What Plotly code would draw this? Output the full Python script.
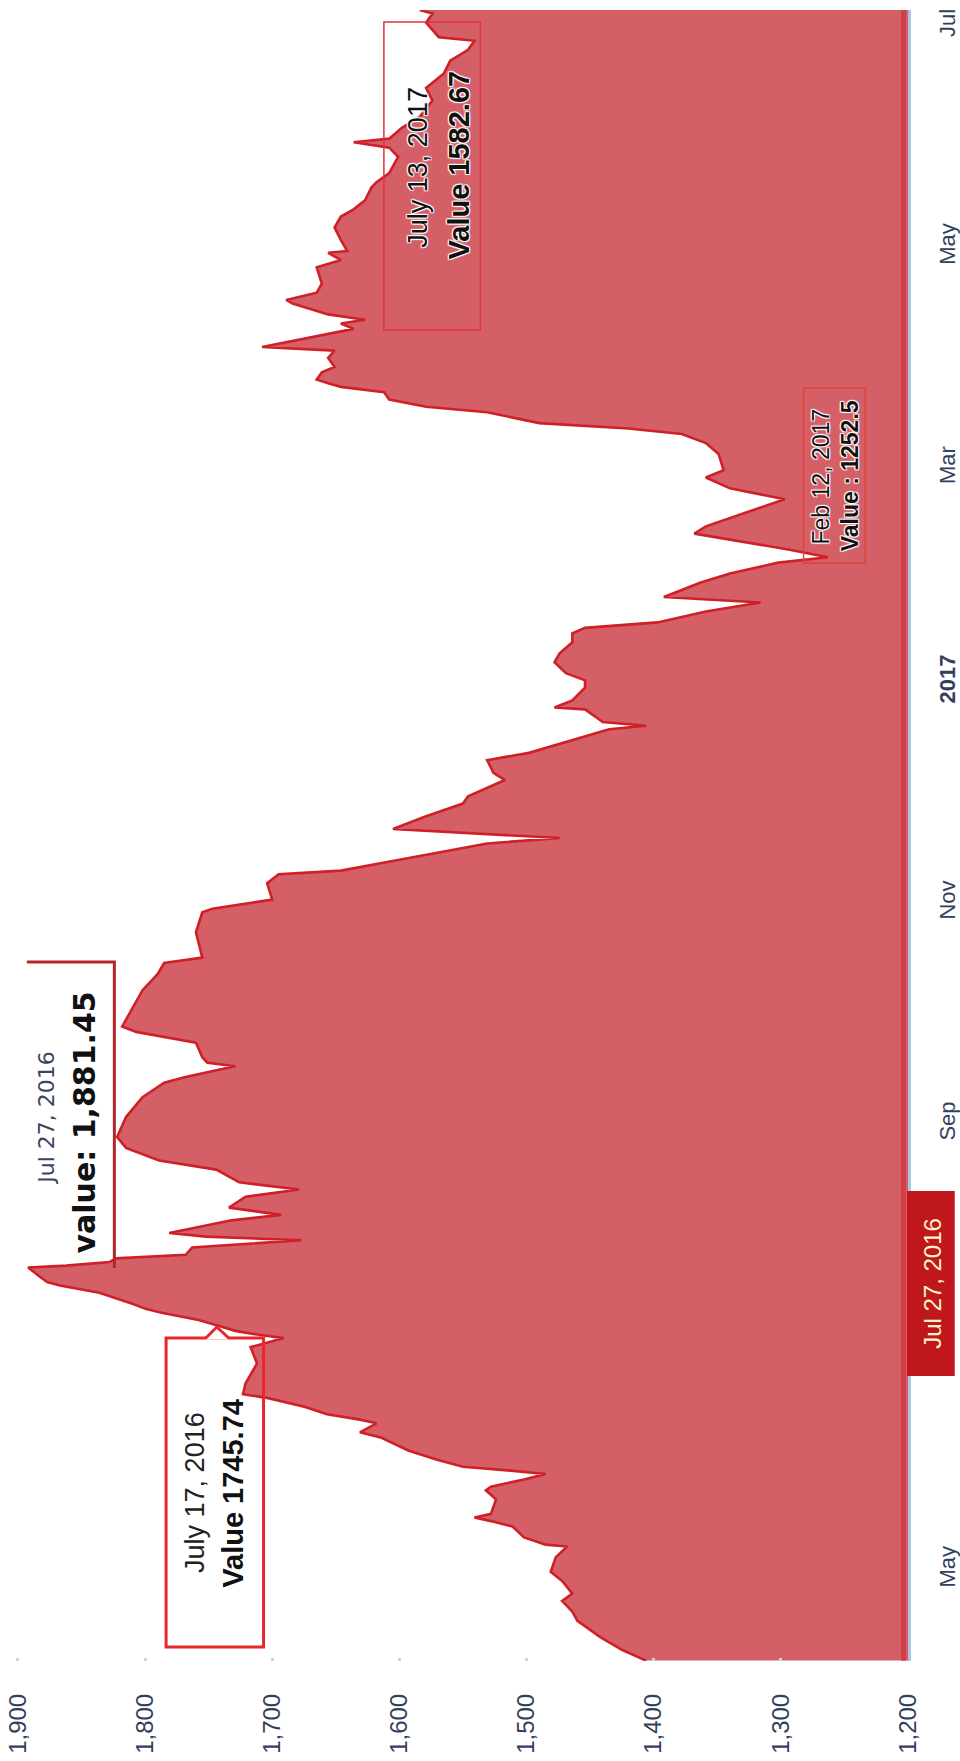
import plotly.graph_objects as go

# ---------------- data ----------------
dates = [
    "2016-04-06", "2016-04-09", "2016-04-12 12:00", "2016-04-17", "2016-04-19 12:00",
    "2016-04-22 12:00", "2016-04-24 12:00", "2016-04-28", "2016-04-30 12:00", "2016-05-04 12:00",
    "2016-05-07 12:00", "2016-05-08", "2016-05-10", "2016-05-13", "2016-05-14 12:00",
    "2016-05-15 12:00", "2016-05-16 12:00", "2016-05-20 12:00", "2016-05-23", "2016-05-24",
    "2016-05-26", "2016-05-27 12:00", "2016-05-28 12:00", "2016-05-29 12:00", "2016-05-31 12:00",
    "2016-06-03", "2016-06-06 12:00", "2016-06-08", "2016-06-10 12:00", "2016-06-11 12:00",
    "2016-06-13", "2016-06-15", "2016-06-17 12:00", "2016-06-18 12:00", "2016-06-21 12:00",
    "2016-06-27", "2016-07-01 12:00", "2016-07-04", "2016-07-05", "2016-07-06",
    "2016-07-07 12:00", "2016-07-09", "2016-07-11", "2016-07-12", "2016-07-13 12:00",
    "2016-07-16 12:00", "2016-07-18 12:00", "2016-07-19 12:00", "2016-07-21", "2016-07-23 12:00",
    "2016-07-24", "2016-07-25", "2016-07-26", "2016-07-27", "2016-07-29",
    "2016-07-31", "2016-08-01", "2016-08-02", "2016-08-05 12:00", "2016-08-07",
    "2016-08-09", "2016-08-12", "2016-08-14", "2016-08-16", "2016-08-19 12:00",
    "2016-08-22", "2016-08-25 12:00", "2016-08-28 12:00", "2016-09-03", "2016-09-08 12:00",
    "2016-09-12 12:00", "2016-09-14", "2016-09-16", "2016-09-17", "2016-09-18",
    "2016-09-19 12:00", "2016-09-23 12:00", "2016-09-25", "2016-09-26 12:00", "2016-09-28",
    "2016-10-02 12:00", "2016-10-08", "2016-10-12 12:00", "2016-10-15 12:00", "2016-10-17",
    "2016-10-24", "2016-10-29 12:00", "2016-10-30 12:00", "2016-11-02", "2016-11-06 12:00",
    "2016-11-09", "2016-11-10", "2016-11-13", "2016-11-17 12:00", "2016-11-19",
    "2016-11-21 12:00", "2016-11-25", "2016-11-28 12:00", "2016-11-30 12:00", "2016-12-05",
    "2016-12-07", "2016-12-10 12:00", "2016-12-12 12:00", "2016-12-19", "2016-12-20",
    "2016-12-21", "2016-12-24 12:00", "2016-12-25", "2016-12-27", "2016-12-30 12:00",
    "2017-01-01 12:00", "2017-01-03 12:00", "2017-01-06 12:00", "2017-01-09", "2017-01-12",
    "2017-01-14 12:00", "2017-01-16", "2017-01-17 12:00", "2017-01-20 12:00", "2017-01-23",
    "2017-01-24 12:00", "2017-01-28 12:00", "2017-01-31", "2017-02-03", "2017-02-04 12:00",
    "2017-02-05 12:00", "2017-02-06 12:00", "2017-02-11", "2017-02-13", "2017-02-20 12:00",
    "2017-02-23 12:00", "2017-02-26 12:00", "2017-02-28 12:00", "2017-03-05", "2017-03-08",
    "2017-03-10 12:00", "2017-03-12", "2017-03-13 12:00", "2017-03-16 12:00", "2017-03-18",
    "2017-03-20", "2017-03-22", "2017-03-23 12:00", "2017-03-24 12:00", "2017-03-25 12:00",
    "2017-03-27 12:00", "2017-03-29", "2017-03-31 12:00", "2017-04-02 12:00", "2017-04-03 12:00",
    "2017-04-08 12:00", "2017-04-10", "2017-04-11", "2017-04-12 12:00", "2017-04-15 12:00",
    "2017-04-16 12:00", "2017-04-18 12:00", "2017-04-21", "2017-04-25 12:00", "2017-04-27 12:00",
    "2017-04-29 12:00", "2017-04-30", "2017-05-03", "2017-05-06 12:00", "2017-05-09 12:00",
    "2017-05-11 12:00", "2017-05-14", "2017-05-17 12:00", "2017-05-19", "2017-05-21 12:00",
    "2017-05-26", "2017-05-28 12:00", "2017-05-30", "2017-05-31", "2017-06-03",
    "2017-06-06", "2017-06-10 12:00", "2017-06-14", "2017-06-18", "2017-06-21 12:00",
    "2017-06-24 12:00", "2017-06-27", "2017-06-28", "2017-07-02", "2017-07-04 12:00",
    "2017-07-05 12:00",
]
values = [
    1406, 1425, 1442, 1460, 1464,
    1472, 1464, 1472, 1481, 1477,
    1468, 1485, 1502, 1511, 1528,
    1541, 1528, 1524, 1532, 1528,
    1502, 1485, 1515, 1550, 1571,
    1593, 1614, 1631, 1618, 1631,
    1657, 1674, 1704, 1723, 1721,
    1712, 1717, 1691, 1712, 1729,
    1743, 1758, 1787, 1799, 1810,
    1836, 1867, 1877, 1883, 1892,
    1862, 1828, 1823, 1768, 1763,
    1677, 1752, 1781, 1732, 1693,
    1734, 1721, 1679, 1726, 1744,
    1789, 1815, 1822, 1815, 1802,
    1785, 1769, 1743, 1729, 1751,
    1755, 1760, 1785, 1807, 1818,
    1811, 1802, 1790, 1785, 1755,
    1760, 1755, 1747, 1700, 1704,
    1695, 1646, 1600, 1531, 1474,
    1605, 1579, 1550, 1546, 1517,
    1526, 1531, 1498, 1435, 1406,
    1440, 1454, 1478, 1464, 1454,
    1454, 1469, 1478, 1474, 1464,
    1464, 1454, 1397, 1359, 1316,
    1392, 1363, 1340, 1302, 1263,
    1277, 1292, 1368, 1359, 1297,
    1340, 1359, 1345, 1349, 1359,
    1378, 1420, 1490, 1531, 1579,
    1608, 1612, 1646, 1656, 1665,
    1661, 1651, 1656, 1651, 1708,
    1636, 1646, 1627, 1656, 1684,
    1689, 1665, 1661, 1665, 1646,
    1656, 1641, 1646, 1651, 1646,
    1636, 1627, 1622, 1618, 1608,
    1601, 1608, 1636, 1608, 1598,
    1584, 1574, 1579, 1565, 1560,
    1546, 1541, 1569, 1579, 1574,
    1584,
]

value_ticks = [1200, 1300, 1400, 1500, 1600, 1700, 1800, 1900]
value_tick_text = ["1,200", "1,300", "1,400", "1,500", "1,600", "1,700", "1,800", "1,900"]
date_ticks = ["2016-05-01", "2016-09-01", "2016-11-01", "2017-01-01",
              "2017-03-01", "2017-05-01", "2017-07-01"]
date_tick_text = ["May", "Sep", "Nov", "<b>2017</b>", "Mar", "May", "Jul"]

# ---------------- layout helpers ----------------
FIG_W, FIG_H = 960, 1761
M_L, M_R, M_T, M_B = 0, 47, 10, 100
PW = FIG_W - M_L - M_R
PH = FIG_H - M_T - M_B


def pxx(x):
    return (x - M_L) / PW


def pxy(y):
    return (FIG_H - M_B - y) / PH


FILL = "#d45f67"
LINE = "#cf2027"
LABEL = "#33405c"

fig = go.Figure()
fig.add_trace(go.Scatter(
    x=values, y=dates, mode="lines",
    line=dict(color=LINE, width=2.6),
    fill="tozerox", fillcolor=FILL,
    hoverinfo="skip", showlegend=False,
))

shapes = []


def rect(x0, y0, x1, y1, color, width, fill="rgba(0,0,0,0)"):
    shapes.append(dict(type="rect", xref="paper", yref="paper",
                       x0=pxx(x0), x1=pxx(x1), y0=pxy(y0), y1=pxy(y1),
                       line=dict(color=color, width=width), fillcolor=fill, layer="above"))


def seg(points, color, width, fill=None, closed=False):
    path = "M " + " L ".join(f"{pxx(a):.5f},{pxy(b):.5f}" for a, b in points)
    if closed:
        path += " Z"
    d = dict(type="path", xref="paper", yref="paper", path=path, layer="above",
             line=dict(color=color, width=width))
    if fill:
        d["fillcolor"] = fill
    shapes.append(d)


# Jul 27 callout (top and right edges only)
seg([(27, 962), (115, 962), (115, 1268)], "#b3262c", 3)
# July 17 callout box with pointer
rect(167, 1338, 265, 1647, "#e8262b", 3)
seg([(207, 1339.5), (218, 1328), (230, 1339.5)], "rgba(0,0,0,0)", 0, fill="white", closed=True)
seg([(207, 1338), (218, 1327), (230, 1338)], "#e8262b", 3)
# July 13 callout box
rect(386, 22, 483, 330, "#e3323a", 1.5)
# Feb 12 callout box
rect(808, 388, 870, 563, "#e3403a", 1.5)
# thin darker stripe along the baseline of the area
rect(906, 10, 911, 1661, "rgba(0,0,0,0)", 0, fill="rgba(200,40,48,0.55)")
# crosshair label on the date axis
rect(912, 1191, 960, 1376, "#c0171d", 0, fill="#c0171d")

halo = "1px 1px 1px white, -1px -1px 1px white, 1px -1px 1px white, -1px 1px 1px white"
ann = []


def label(text, x, y, size, color="#111111", bold=False, family="Liberation Sans, Arial, sans-serif", shadow=None):
    f = dict(size=size, color=color, family=family)
    if shadow:
        f["shadow"] = shadow
    ann.append(dict(text=f"<b>{text}</b>" if bold else text, x=pxx(x), y=pxy(y),
                    xref="paper", yref="paper", showarrow=False, textangle=-90,
                    xanchor="center", yanchor="middle", font=f))


DV = "DejaVu Sans, Verdana, sans-serif"
label("Jul 27, 2016", 46, 1118, 22, color="#3a4560", family=DV)
label("value: 1,881.45", 84, 1123, 30, color="#111111", bold=True, family=DV)
label("July 17, 2016", 196, 1492, 27, color="#222222")
label("Value 1745.74", 234, 1493, 29, color="#111111", bold=True)
label("July 13, 2017", 420, 167, 27, color="#111111", shadow=halo)
label("Value 1582.67", 462, 165, 29, color="#111111", bold=True, shadow=halo)
label("Feb 12, 2017", 826, 476, 23, color="#111111", shadow=halo)
label("Value : 1252.5", 855, 476, 23, color="#111111", bold=True, shadow=halo)
label("Jul 27, 2016", 937, 1283, 24, color="#fff3cc")

fig.update_layout(
    width=FIG_W, height=FIG_H,
    margin=dict(l=M_L, r=M_R, t=M_T, b=M_B),
    paper_bgcolor="white", plot_bgcolor="white",
    shapes=shapes, annotations=ann,
    xaxis=dict(
        range=[1914.1, 1200], tickvals=value_ticks, ticktext=value_tick_text,
        tickangle=-90, showgrid=False, zeroline=False, showline=False,
        ticks="inside", ticklen=3, tickwidth=3, tickcolor="#d0d0d0",
        ticklabelstandoff=27,
        tickfont=dict(size=24, color=LABEL, family="Liberation Sans, Arial, sans-serif"),
    ),
    yaxis=dict(
        type="date", side="right",
        range=["2016-04-05 21:30", "2017-07-05 12:00"],
        tickvals=date_ticks, ticktext=date_tick_text,
        tickangle=-90, showgrid=False, zeroline=False,
        showline=True, linecolor="#a8c4e6", linewidth=3, ticks="",
        ticklabelstandoff=18,
        tickfont=dict(size=22, color=LABEL, family="Liberation Sans, Arial, sans-serif"),
    ),
)

fig.write_html(
    "out.html",
    config={"displayModeBar": False},
    post_script="document.body.style.margin='0px';document.body.style.overflow='hidden';",
)
